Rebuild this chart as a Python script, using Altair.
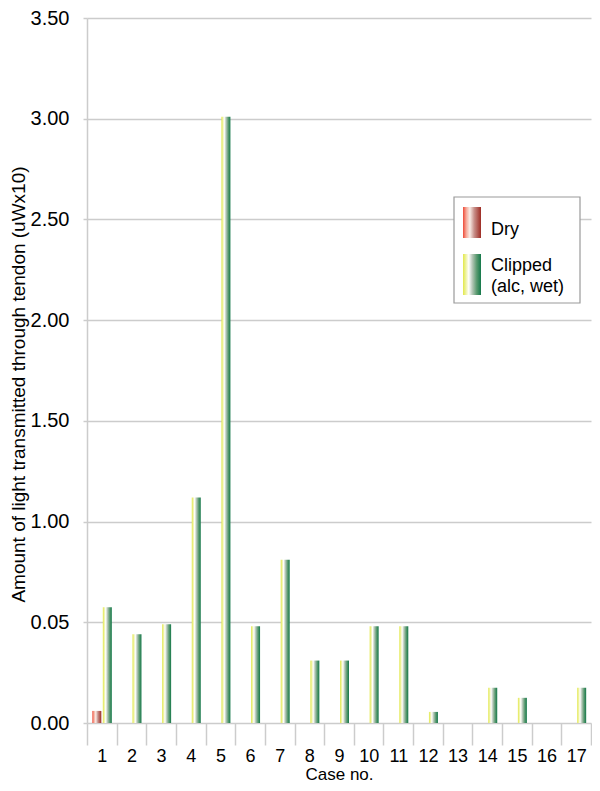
import altair as alt
import pandas as pd

cases = list(range(1, 18))
dry = [0.06, 0, 0, 0, 0, 0, 0, 0, 0, 0, 0, 0, 0, 0, 0, 0, 0]
clipped = [0.575, 0.44, 0.49, 1.12, 3.01, 0.48, 0.81, 0.31, 0.31, 0.48, 0.48, 0.055, 0, 0.175, 0.125, 0, 0.175]
y_ticks = [0, 0.5, 1.0, 1.5, 2.0, 2.5, 3.0, 3.5]

FONT = "Liberation Sans, Arial, sans-serif"
W, H = 504, 705
GRID = "#cccccc"

df_dry = pd.DataFrame({"case": cases, "value": dry})
df_dry = df_dry[df_dry["value"] > 0]
df_clip = pd.DataFrame({"case": cases, "value": clipped})
df_clip = df_clip[df_clip["value"] > 0]

def grad(stops):
    return alt.LinearGradient(
        gradient="linear", x1=0, y1=0, x2=1, y2=0,
        stops=[alt.GradientStop(color=c, offset=o) for o, c in stops],
    )

dry_grad = grad([(0, "#ee4a38"), (0.18, "#f6a898"), (0.38, "#f8ece6"), (0.62, "#c8908a"), (1, "#9e2c24")])
clip_grad = grad([(0, "#e2e84a"), (0.15, "#eef29c"), (0.32, "#ffffff"), (0.52, "#b4c6b6"), (0.76, "#5a9a70"), (1, "#14784a")])

xscale = alt.Scale(domain=cases, paddingInner=0, paddingOuter=0)
yscale = alt.Scale(domain=[0, 3.5], nice=False)

xaxis = alt.Axis(
    tickBand="extent", tickSize=22, tickColor=GRID, tickWidth=1.5, domain=False,
    labelFontSize=18, labelFont=FONT, labelColor="#000", labelPadding=2,
    labelAngle=0, title="Case no.", titleFont=FONT, titleFontSize=17,
    titleFontWeight="normal", titleColor="#000", titlePadding=1, grid=False,
)
yaxis = alt.Axis(
    values=y_ticks,
    labelExpr="datum.value == 0.5 ? '0.05' : format(datum.value, '.2f')",
    tickSize=4, tickColor=GRID, tickWidth=1.5, gridColor=GRID, gridWidth=1.5,
    domainColor=GRID, domainWidth=1.5,
    labelFontSize=20, labelFont=FONT, labelColor="#000", labelPadding=14,
    title="Amount of light transmitted through tendon (uWx10)",
    titleFont=FONT, titleFontSize=19, titleFontWeight="normal", titleColor="#000",
    titlePadding=2, titleY=366,
)

clip_bars = alt.Chart(df_clip).mark_bar(width=9, xOffset=5.5, color=clip_grad).encode(
    x=alt.X("case:O", scale=xscale, axis=xaxis),
    y=alt.Y("value:Q", scale=yscale, axis=yaxis),
)
dry_bars = alt.Chart(df_dry).mark_bar(width=9, xOffset=-5, color=dry_grad).encode(
    x=alt.X("case:O", scale=xscale),
    y=alt.Y("value:Q", scale=yscale),
)

one = alt.Data(values=[{"k": 1}])
legend_box = alt.Chart(one).mark_rect(fill="white", stroke="#9a9a9a", strokeWidth=1.2).encode(
    x=alt.value(367), x2=alt.value(493), y=alt.value(179), y2=alt.value(285)
)
sym_dry = alt.Chart(one).mark_rect(color=dry_grad).encode(
    x=alt.value(376), x2=alt.value(394), y=alt.value(189), y2=alt.value(220)
)
sym_clip = alt.Chart(one).mark_rect(color=clip_grad).encode(
    x=alt.value(376), x2=alt.value(394), y=alt.value(236), y2=alt.value(277)
)
def txt(s, y):
    return alt.Chart(one).mark_text(
        text=s, align="left", baseline="alphabetic", font=FONT, fontSize=18, color="#000"
    ).encode(x=alt.value(404), y=alt.value(y))

chart = alt.layer(
    clip_bars, dry_bars, legend_box, sym_dry, sym_clip,
    txt("Dry", 217), txt("Clipped", 253), txt("(alc, wet)", 274),
).properties(
    width=W, height=H, padding={"left": 1, "top": 0, "right": 0, "bottom": 0},
    background="white",
).configure_view(stroke=None)

chart.save("out.html", embed_options={"renderer": "svg", "actions": False})
